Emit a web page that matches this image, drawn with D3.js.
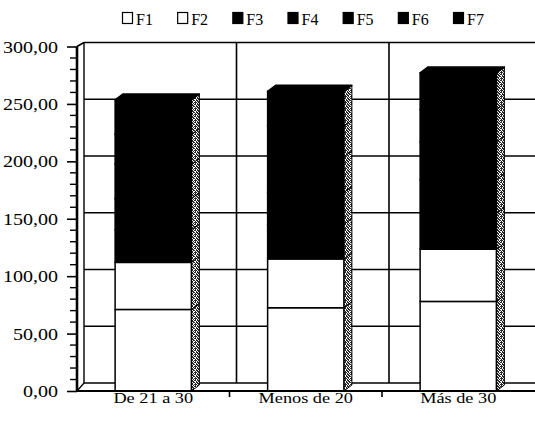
<!DOCTYPE html>
<html>
<head>
<meta charset="utf-8">
<script src="https://cdn.jsdelivr.net/npm/d3@7"></script>
<style>
  html, body { margin: 0; padding: 0; background: #fff; }
  svg { display: block; }
  text { font-family: "Times New Roman", "Liberation Serif", Times, serif; fill: #000; }
</style>
</head>
<body>
<svg id="chart" width="535" height="421"></svg>
<script>
// Age groups on the x axis
const categories = ["De 21 a 30", "Menos de 20", "Más de 30"];
// Stacked series
const seriesNames = ["F1", "F2", "F3", "F4", "F5", "F6", "F7"];
const F1 = [71, 72.5, 78];
const F2 = [41, 42.5, 45.5];
const F3 = [28.5, 30, 31.5];
const F4 = [27, 28, 29];
const F5 = [30, 31, 33];
const F6 = [26, 27, 28];
const F7 = [30, 30, 32];
const yTicks = [0, 50, 100, 150, 200, 250, 300];

const seriesValues = { F1, F2, F3, F4, F5, F6, F7 };
const rows = categories.map((c, i) => {
  const r = { cat: c };
  seriesNames.forEach(k => { r[k] = seriesValues[k][i]; });
  return r;
});

const fills = {
  F1: "#ffffff", F2: "#ffffff", F3: "#000000",
  F4: "#000000", F5: "#000000", F6: "#000000", F7: "#000000"
};

const svg = d3.select("#chart");
const defs = svg.append("defs");

// halftone grey used on the side faces of the columns
const dither = defs.append("pattern").attr("id", "dither")
  .attr("patternUnits", "userSpaceOnUse").attr("width", 6).attr("height", 6);
dither.append("rect").attr("width", 6).attr("height", 6).attr("fill", "#fff");
[[0,0],[2,0],[3,0],[4,0],[1,1],[3,1],[5,1],[0,2],[2,2],[3,2],[5,2],[0,3],[1,3],[4,3],
 [1,4],[2,4],[4,4],[5,4],[0,5],[3,5],[5,5]].forEach(([px, py]) =>
  dither.append("rect").attr("x", px).attr("y", py).attr("width", 1).attr("height", 1).attr("fill", "#2a2a2a"));

const locale = d3.formatLocale({ decimal: ",", thousands: ".", grouping: [3], currency: ["", ""] });
const fmt = locale.format(".2f");

// front plane and back wall scales (3-D depth offset)
const xSlot = d3.scaleBand().domain(categories).range([77, 534.5]);
const x = d3.scaleBand().domain(categories).range([77, 534.5]).paddingInner(0.5).paddingOuter(0.25);
const yFront = d3.scaleLinear().domain([0, 300]).range([391, 46.5]);
const yBack = d3.scaleLinear().domain([0, 300]).range([383, 42.5]);
const wallDx = 7;
const barDx = 8, barDy = -6;
const wallLeft = 77 + wallDx;
const right = 535;

const g = svg.append("g");

// back wall: horizontal gridlines
g.selectAll("line.grid").data(yTicks).join("line")
  .attr("x1", wallLeft).attr("x2", right)
  .attr("y1", d => yBack(d)).attr("y2", d => yBack(d))
  .attr("stroke", "#000").attr("stroke-width", 1.6);

// back wall: vertical gridlines at category boundaries
g.selectAll("line.vgrid").data(categories.slice(1)).join("line")
  .attr("x1", d => xSlot(d) + wallDx).attr("x2", d => xSlot(d) + wallDx)
  .attr("y1", yBack(300)).attr("y2", yBack(0))
  .attr("stroke", "#000").attr("stroke-width", 1.6);

// back wall left edge, side wall top edge and floor corner
g.append("line").attr("x1", wallLeft).attr("x2", wallLeft)
  .attr("y1", yBack(300)).attr("y2", yBack(0)).attr("stroke", "#000").attr("stroke-width", 1.4);
g.append("line").attr("x1", 77).attr("y1", yFront(300)).attr("x2", wallLeft).attr("y2", yBack(300))
  .attr("stroke", "#000").attr("stroke-width", 1.6);
g.append("line").attr("x1", 77).attr("y1", yFront(0)).attr("x2", wallLeft).attr("y2", yBack(0))
  .attr("stroke", "#000").attr("stroke-width", 1.4);

// columns
const stacked = d3.stack().keys(seriesNames)(rows);
const barG = g.append("g");
rows.forEach((row, i) => {
  const x0 = x(row.cat), x1 = x0 + x.bandwidth();
  const bg = barG.append("g");
  stacked.forEach(layer => {
    const [v0, v1] = layer[i];
    const yb = yFront(v0), yt = yFront(v1);
    // side face
    bg.append("path")
      .attr("d", `M${x1},${yb}L${x1},${yt}L${x1 + barDx},${yt + barDy}L${x1 + barDx},${yb + barDy}Z`)
      .attr("fill", "url(#dither)").attr("stroke", "#000").attr("stroke-width", 1);
    // front face
    bg.append("rect")
      .attr("x", x0).attr("y", yt).attr("width", x1 - x0).attr("height", yb - yt)
      .attr("fill", fills[layer.key]).attr("stroke", "#000").attr("stroke-width", 1.5);
  });
  // top face
  const top = stacked[stacked.length - 1][i][1];
  const yt = yFront(top);
  bg.append("path")
    .attr("d", `M${x0},${yt}L${x0 + barDx},${yt + barDy}L${x1 + barDx},${yt + barDy}L${x1},${yt}Z`)
    .attr("fill", "#000").attr("stroke", "#000").attr("stroke-width", 1.5).attr("stroke-linejoin", "round");
});

// y axis with minor ticks
const minorTicks = d3.range(0, 301, 10).filter(v => v % 50 !== 0);
g.selectAll("line.minor").data(minorTicks).join("line")
  .attr("x1", 70).attr("x2", 77).attr("y1", d => yFront(d)).attr("y2", d => yFront(d))
  .attr("stroke", "#000").attr("stroke-width", 1.4);
const yAxis = d3.axisLeft(yFront).tickValues(yTicks).tickFormat(fmt).tickSize(10).tickPadding(7);
const yAx = g.append("g").attr("transform", "translate(77,0)").call(yAxis);
yAx.select(".domain").remove();
yAx.selectAll(".tick line").attr("stroke", "#000").attr("stroke-width", 1.6);
yAx.selectAll(".tick text")
  .attr("font-family", null).attr("font-size", 17)
  .attr("transform", "scale(1.18,1)").attr("x", -19 / 1.18).attr("dy", "0.33em");
g.append("line").attr("x1", 77).attr("x2", 77).attr("y1", yFront(300)).attr("y2", yFront(0) + 1)
  .attr("stroke", "#000").attr("stroke-width", 2.6);

// x axis
g.append("line").attr("x1", 76).attr("x2", right).attr("y1", yFront(0)).attr("y2", yFront(0))
  .attr("stroke", "#000").attr("stroke-width", 2.2);
g.selectAll("line.xtick").data(categories.slice(1)).join("line")
  .attr("x1", d => xSlot(d)).attr("x2", d => xSlot(d))
  .attr("y1", yFront(0)).attr("y2", yFront(0) + 6)
  .attr("stroke", "#000").attr("stroke-width", 1.6);
g.selectAll("text.xlab").data(categories).join("text")
  .attr("class", "xlab")
  .attr("transform", d => `translate(${xSlot(d) + xSlot.bandwidth() / 2},403) scale(1.18,1)`)
  .attr("text-anchor", "middle").attr("font-size", 15.5)
  .text(d => d);

// legend
const legendX = d3.scalePoint().domain(seriesNames).range([122, 453]);
const lg = svg.append("g").selectAll("g").data(seriesNames).join("g")
  .attr("transform", d => `translate(${legendX(d)},12)`);
lg.append("rect").attr("x", 0.5).attr("y", 0.5).attr("width", 10).attr("height", 11)
  .attr("fill", d => fills[d]).attr("stroke", "#000").attr("stroke-width", 1.2);
lg.append("text").attr("x", 14).attr("y", 12.5).attr("font-size", 16)
  .text(d => d);
</script>
</body>
</html>
